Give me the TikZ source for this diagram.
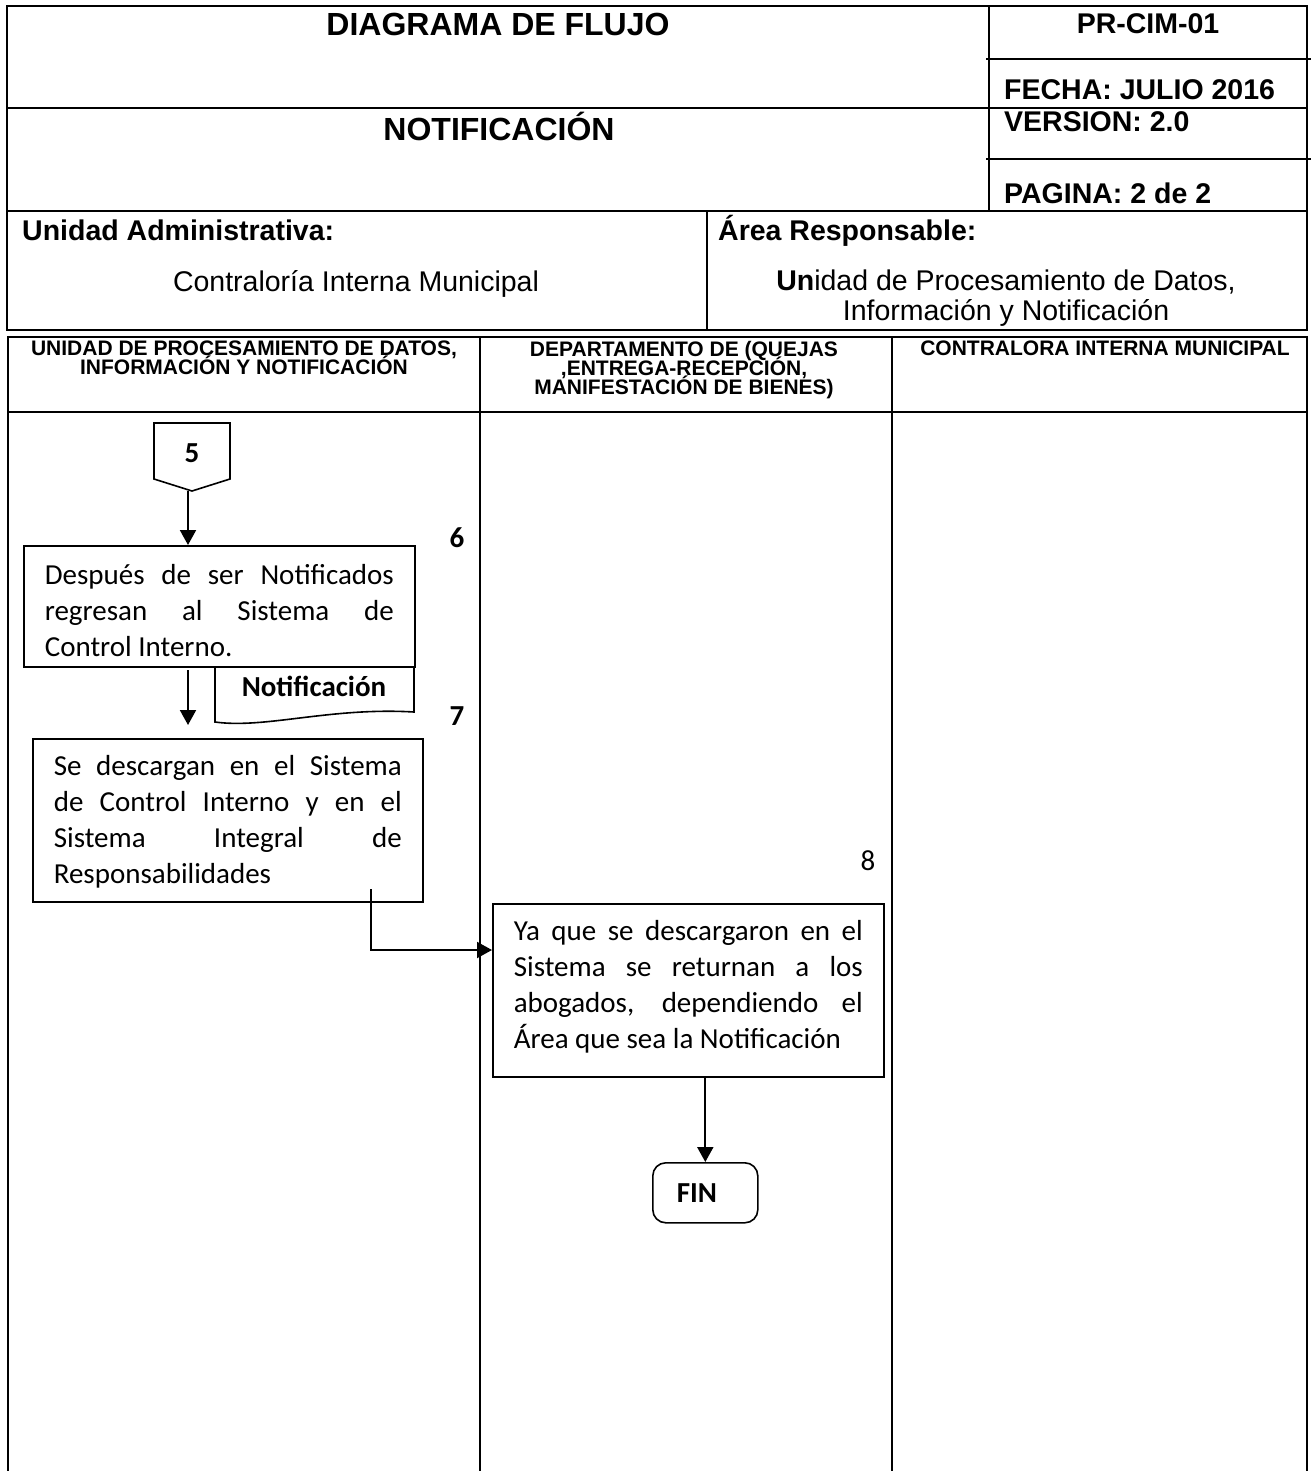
\documentclass[tikz,border=0pt]{standalone}
\usepackage{fontspec}
\setmainfont{Liberation Sans}
\newfontfamily\calfont{Carlito}
\usetikzlibrary{arrows.meta}
% fixed line spacing even when accents would collide
\newcommand\tightlines{\lineskiplimit-100bp\relax\lineskip0bp\relax}

\begin{document}
\begin{tikzpicture}[x=1bp,y=-1bp,
  frame/.style={line width=2.5bp},
  lane/.style={line width=2.2bp},
  shapeline/.style={line width=1.6bp},
  lbl/.style={inner sep=0pt, font={\fontsize{28.5bp}{30bp}\selectfont}},
  lblb/.style={inner sep=0pt, font={\bfseries\fontsize{28.5bp}{30bp}\selectfont}},
  ttl/.style={inner sep=0pt, font={\bfseries\fontsize{32bp}{38bp}\selectfont}},
  hdr/.style={inner sep=0pt, anchor=north, align=center,
    font={\bfseries\fontsize{21bp}{19bp}\selectfont\tightlines}},
  stepbox/.style={draw, shapeline, anchor=north west, inner xsep=21bp, inner ysep=0bp,
    align=justify, font={\calfont\fontsize{29bp}{36bp}\selectfont}},
  num/.style={inner sep=0pt, anchor=base, font={\calfont\bfseries\fontsize{29bp}{34bp}\selectfont}},
  flow/.style={line width=2bp, -{Triangle[width=16bp,length=15bp]}},
]
\useasboundingbox (0,0) rectangle (1311,1471);

% ---------- header block ----------
\draw[frame] (7,6) rectangle (1307,330);
\draw[frame] (7,108) -- (1307,108);
\draw[frame] (7,211) -- (1307,211);
\draw[frame] (989,6) -- (989,211);
\draw[frame] (707,211) -- (707,330);
\draw[frame] (986,59) -- (1311,59);
\draw[frame] (986,159) -- (1311,159);

\node[ttl, anchor=base] (title) at (498,36) {DIAGRAMA DE FLUJO};
\node[lblb, anchor=base] (code) at (1148,34) {PR-CIM-01};
\node[lblb, anchor=base west] (fecha) at (1004,100) {FECHA: JULIO 2016};
\node[ttl, anchor=base] (proc) at (499,141) {NOTIFICACIÓN};
\node[lblb, anchor=base west] (version) at (1004,132) {VERSION: 2.0};
\node[lblb, anchor=base west] (pagina) at (1004,204) {PAGINA: 2 de 2};
\node[lblb, anchor=base west] (unadm) at (22,240) {Unidad Administrativa:};
\node[lblb, anchor=base west] (arresp) at (718,240) {Área Responsable:};
\node[lbl, anchor=base] (cim) at (356,291) {Contraloría Interna Municipal};
\node[lbl, anchor=north, align=center] (updin) at (1006,270)
  {\textbf{Un}idad de Procesamiento de Datos,\\Información y Notificación};

% ---------- swimlanes ----------
\draw[lane] (8,1471) -- (8,337) -- (1307,337) -- (1307,1471);
\draw[lane] (8,412) -- (1307,412);
\draw[lane] (480,337) -- (480,1471);
\draw[lane] (892,337) -- (892,1471);

\node[hdr] (lane1) at (244,341) {UNIDAD DE PROCESAMIENTO DE DATOS,\\INFORMACIÓN Y NOTIFICACIÓN};
\node[hdr] (lane2) at (684,341) {DEPARTAMENTO DE (QUEJAS\\,ENTREGA-RECEPCIÓN,\\MANIFESTACIÓN DE BIENES)};
\node[hdr] (lane3) at (1105,341) {CONTRALORA INTERNA MUNICIPAL};

% ---------- off-page connector 5 ----------
\draw[shapeline] (154,423) -- (230,423) -- (230,479) -- (192,491) -- (154,479) -- cycle;
\coordinate (c5tip) at (192,491);
\node[num] (n5) at (192,462) {5};

% ---------- process steps ----------
\node[stepbox, minimum width=391bp, minimum height=121bp, text width=349bp,
  text height=39bp, text depth=82bp] (b6) at (23,545)
  {Después de ser Notificados\linebreak regresan al Sistema de\linebreak Control Interno.};
\node[num] (n6) at (457,547) {6};

% document symbol under step 6
\draw[shapeline] (215,666) -- (215,722) .. controls (265,729) and (330,707) .. (414,712) -- (414,666);
\node[num] (docname) at (314,696) {Notificación};

\node[stepbox, minimum width=390bp, minimum height=163bp, text width=348bp,
  text height=37bp, text depth=126bp] (b7) at (32,738)
  {Se descargan en el Sistema\linebreak de Control Interno y en el\linebreak Sistema Integral de\linebreak Responsabilidades};
\node[num] (n7) at (457,725) {7};

\node[stepbox, minimum width=391bp, minimum height=173bp, text width=349bp,
  text height=37bp, text depth=136bp] (b8) at (492,903)
  {Ya que se descargaron en el\linebreak Sistema se returnan a los\linebreak abogados, dependiendo el\linebreak Área que sea la Notificación};
\node[num, font={\calfont\fontsize{29bp}{34bp}\selectfont}] (n8) at (868,870) {8};

\node[draw, shapeline, rounded corners=13bp, anchor=north west, minimum width=105bp,
  minimum height=60bp, inner xsep=24bp, text width=57bp, align=left,
  font={\calfont\bfseries\fontsize{29bp}{34bp}\selectfont}] (fin) at (652,1162) {FIN};

% ---------- connectors ----------
\draw[flow] ([shift={(-4,0)}]c5tip) -- ([shift={(-4,0)}]c5tip |- b6.north);
\coordinate (a7s) at (188,670);
\coordinate (a7e) at (188,725);
\draw[flow] (a7s) -- (a7e);
\coordinate (s7) at (371,889);
\coordinate (j8) at (0,950);
\draw[flow] (s7) |- (b8.west |- j8);
\draw[flow] (b8.south -| fin.north) -- (fin.north);

\end{tikzpicture}
\end{document}
